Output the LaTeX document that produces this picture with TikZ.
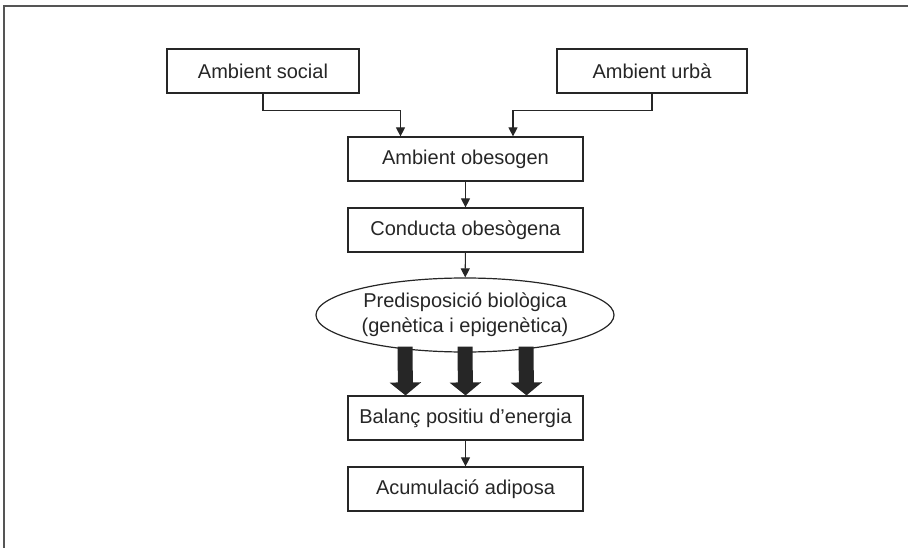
\documentclass[tikz,border=0pt]{standalone}
\usepackage{fontspec}
\setmainfont{Liberation Sans}
\usetikzlibrary{arrows.meta}
\usetikzlibrary{shapes.geometric}
\usetikzlibrary{calc}
\definecolor{ink}{HTML}{262626}
\definecolor{frame}{HTML}{555555}

\begin{document}
\begin{tikzpicture} [x=1pt,y=-1pt]
\tikzset{
 box/.style={draw=ink, line width=1.2pt, text=ink, minimum height=44pt, inner sep=0pt,
   font=\fontsize{20}{25}\selectfont},
 conn/.style={draw=ink, line width=1.1pt, -{Triangle[length=9pt,width=9pt]}},
 fat/.style={draw=ink, line width=15pt, -{Triangle[length=13pt,width=31pt]}, shorten >=0pt}
}
\useasboundingbox (0,0) rectangle (908,548);
\draw[frame, line width=1.5pt] (908,6) -- (4,6) -- (4,548);
% top row
\node[box, minimum width=192pt] (soc) at (263,71) {Ambient social};
\node[box, minimum width=190pt] (urb) at (652,71) {Ambient urbà};
% central column
\node[box, minimum width=235pt] (obe) at (465.5,159) {Ambient obesogen};
\node[box, minimum width=235pt] (cond) at (465.5,230) {Conducta obesògena};
\node[box, ellipse, minimum width=298pt, minimum height=74pt, align=center] (pred) at (465,315)
 {Predisposició biològica\\(genètica i epigenètica)};
\node[box, minimum width=235pt] (bal) at (465.5,418) {Balanç positiu d’energia};
\node[box, minimum width=235pt] (acu) at (465.5,489) {Acumulació adiposa};
% connectors
\draw[conn] (soc.south) -- ++(0,17) -| ([xshift=-65pt]obe.north);
\draw[conn] (urb.south) -- ++(0,17) -| ([xshift=47.5pt]obe.north);
\draw[conn] (obe) -- (cond);
\draw[conn] (cond) -- (pred);
\draw[conn] (bal) -- (acu);
\foreach \dx in {-60,0,61} {
 \draw[fat] ([xshift=\dx pt, yshift=6pt]pred.south) -- ([xshift=\dx pt]bal.north);
}
\end{tikzpicture}
\end{document}
